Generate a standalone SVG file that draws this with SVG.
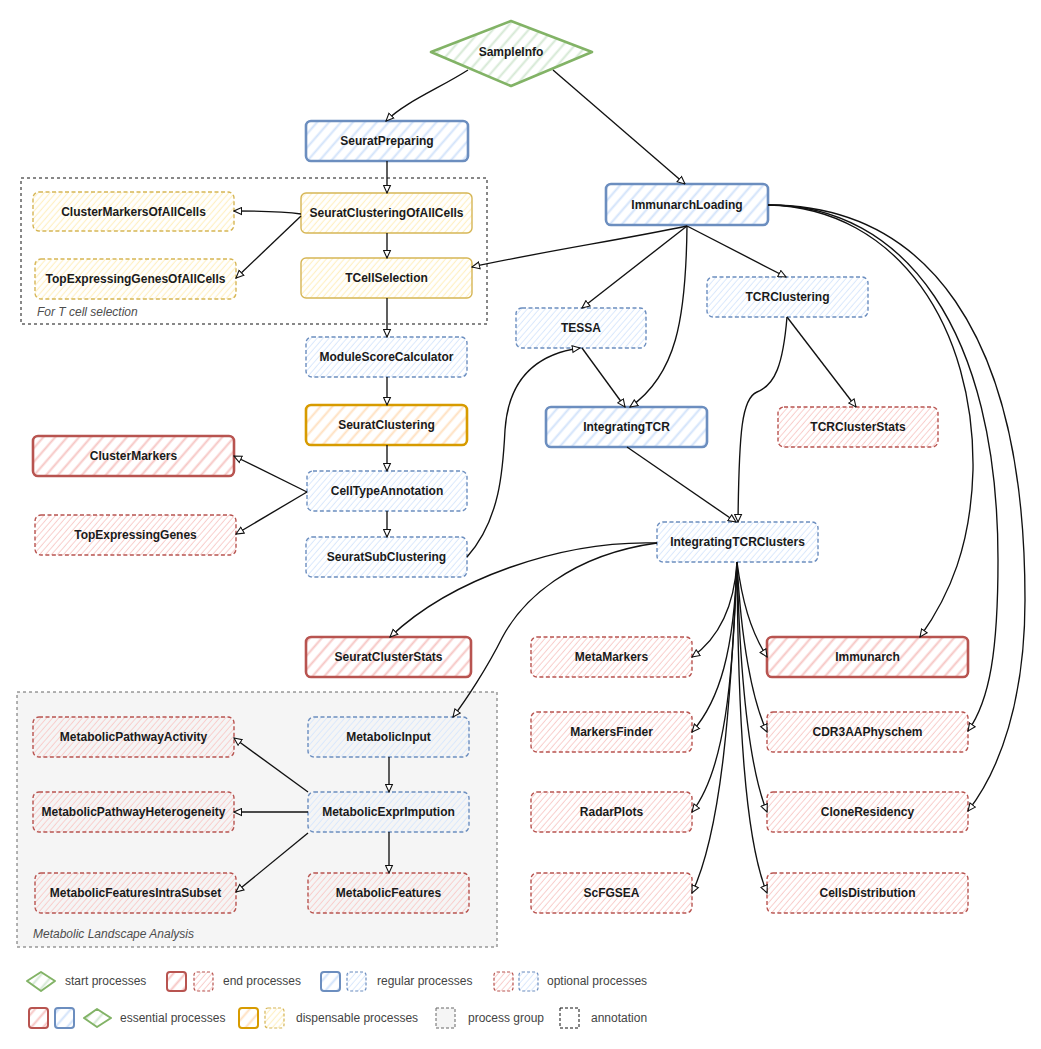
<svg xmlns="http://www.w3.org/2000/svg" width="1041" height="1049" viewBox="0 0 1041 1049">
<defs>
<style>
.lbl{font-family:"Liberation Sans",Arial,sans-serif;font-size:12px;font-weight:bold;fill:#1a1a1a;text-anchor:middle}
.leg{font-family:"Liberation Sans",Arial,sans-serif;font-size:12px;fill:#444}
.note{font-family:"Liberation Sans",Arial,sans-serif;font-size:12px;font-style:italic;fill:#4d4d4d}
.edge{fill:none;stroke:#111;stroke-width:1.35;marker-end:url(#arr)}
.ess{stroke-width:2.6}
.thin{stroke-width:1.4}
.opt{stroke-width:1.4;stroke-dasharray:4 2.5}
.blue{stroke:#6c8ebf}
.red{stroke:#b85450}
.yel{stroke:#d6b656}
.ora{stroke:#d79b00}
.grn{stroke:#82b366}
</style>
<!-- hachure fills: wide spacing for bold outlines, dense spacing for light outlines -->
<pattern id="hB" width="9" height="9" patternUnits="userSpaceOnUse" patternTransform="rotate(41)"><line x1="4.5" y1="0" x2="4.5" y2="9" stroke="#d2e3fa" stroke-width="2"/></pattern>
<pattern id="hBd" width="4.5" height="9" patternUnits="userSpaceOnUse" patternTransform="rotate(41)"><line x1="2.2" y1="0" x2="2.2" y2="9" stroke="#dae8fc" stroke-width="1"/></pattern>
<pattern id="hR" width="9" height="9" patternUnits="userSpaceOnUse" patternTransform="rotate(41)"><line x1="4.5" y1="0" x2="4.5" y2="9" stroke="#f6c6c4" stroke-width="2"/></pattern>
<pattern id="hRd" width="4.5" height="9" patternUnits="userSpaceOnUse" patternTransform="rotate(41)"><line x1="2.2" y1="0" x2="2.2" y2="9" stroke="#f8cecc" stroke-width="1"/></pattern>
<pattern id="hYd" width="4.5" height="9" patternUnits="userSpaceOnUse" patternTransform="rotate(41)"><line x1="2.2" y1="0" x2="2.2" y2="9" stroke="#fff0c4" stroke-width="1.2"/></pattern>
<pattern id="hO" width="9" height="9" patternUnits="userSpaceOnUse" patternTransform="rotate(41)"><line x1="4.5" y1="0" x2="4.5" y2="9" stroke="#ffe0c0" stroke-width="2"/></pattern>
<pattern id="hG" width="9" height="9" patternUnits="userSpaceOnUse" patternTransform="rotate(41)"><line x1="4.5" y1="0" x2="4.5" y2="9" stroke="#d5e8d4" stroke-width="2"/></pattern>
<marker id="arr" viewBox="0 0 10 10" refX="9.2" refY="5" markerWidth="9" markerHeight="9" markerUnits="userSpaceOnUse" orient="auto">
<path d="M0.8,1.2 L9.2,5 L0.8,8.8 Z" fill="#fff" stroke="#111" stroke-width="1.2"/>
</marker>
</defs>
<rect width="1041" height="1049" fill="#fff"/>

<!-- containers -->
<g id="annotation-tcell">
<rect x="21" y="178" width="466" height="146" fill="none" stroke="#111" stroke-width="1" stroke-dasharray="3 3"/>
<text class="note" x="37" y="316">For T cell selection</text>
</g>
<g id="group-metabolic">
<rect x="17" y="692" width="480" height="255" fill="#f5f5f5" stroke="#666" stroke-width="1" stroke-dasharray="3 3"/>
<text class="note" x="33" y="938">Metabolic Landscape Analysis</text>
</g>

<!-- processes -->
<g id="SampleInfo">
<polygon points="431,52 511,21 592,52 511,86" fill="url(#hG)" class="grn ess" stroke-linejoin="round"/>
<text class="lbl" x="511" y="56">SampleInfo</text>
</g>
<g id="SeuratPreparing"><rect x="306" y="121" width="162" height="40" rx="5" fill="url(#hB)" class="blue ess"/><text class="lbl" x="387" y="145">SeuratPreparing</text></g>
<g id="ClusterMarkersOfAllCells"><rect x="33" y="192" width="201" height="39" rx="6" fill="url(#hYd)" class="yel opt"/><text class="lbl" x="133.5" y="215.5">ClusterMarkersOfAllCells</text></g>
<g id="SeuratClusteringOfAllCells"><rect x="301" y="193" width="171" height="40" rx="5" fill="url(#hYd)" class="yel thin"/><text class="lbl" x="386.5" y="217">SeuratClusteringOfAllCells</text></g>
<g id="TopExpressingGenesOfAllCells"><rect x="35" y="259" width="201" height="40" rx="6" fill="url(#hYd)" class="yel opt"/><text class="lbl" x="135.5" y="283">TopExpressingGenesOfAllCells</text></g>
<g id="TCellSelection"><rect x="301" y="258" width="171" height="40" rx="5" fill="url(#hYd)" class="yel thin"/><text class="lbl" x="386.5" y="282">TCellSelection</text></g>
<g id="ModuleScoreCalculator"><rect x="306" y="337" width="161" height="40" rx="6" fill="url(#hBd)" class="blue opt"/><text class="lbl" x="386.5" y="361">ModuleScoreCalculator</text></g>
<g id="SeuratClustering"><rect x="306" y="405" width="161" height="40" rx="5" fill="url(#hO)" class="ora ess"/><text class="lbl" x="386.5" y="429">SeuratClustering</text></g>
<g id="ClusterMarkers"><rect x="33" y="436" width="201" height="40" rx="5" fill="url(#hR)" class="red ess"/><text class="lbl" x="133.5" y="460">ClusterMarkers</text></g>
<g id="CellTypeAnnotation"><rect x="307" y="471" width="160" height="40" rx="6" fill="url(#hBd)" class="blue opt"/><text class="lbl" x="387" y="495">CellTypeAnnotation</text></g>
<g id="TopExpressingGenes"><rect x="35" y="515" width="201" height="40" rx="6" fill="url(#hRd)" class="red opt"/><text class="lbl" x="135.5" y="539">TopExpressingGenes</text></g>
<g id="SeuratSubClustering"><rect x="306" y="537" width="161" height="40" rx="6" fill="url(#hBd)" class="blue opt"/><text class="lbl" x="386.5" y="561">SeuratSubClustering</text></g>
<g id="ImmunarchLoading"><rect x="606" y="184" width="162" height="41" rx="5" fill="url(#hB)" class="blue ess"/><text class="lbl" x="687" y="209">ImmunarchLoading</text></g>
<g id="TESSA"><rect x="516" y="308" width="130" height="40" rx="6" fill="url(#hBd)" class="blue opt"/><text class="lbl" x="581" y="332">TESSA</text></g>
<g id="TCRClustering"><rect x="707" y="277" width="161" height="40" rx="6" fill="url(#hBd)" class="blue opt"/><text class="lbl" x="787.5" y="301">TCRClustering</text></g>
<g id="IntegratingTCR"><rect x="546" y="407" width="161" height="40" rx="5" fill="url(#hB)" class="blue ess"/><text class="lbl" x="626.5" y="431">IntegratingTCR</text></g>
<g id="TCRClusterStats"><rect x="778" y="407" width="160" height="40" rx="6" fill="url(#hRd)" class="red opt"/><text class="lbl" x="858" y="431">TCRClusterStats</text></g>
<g id="IntegratingTCRClusters"><rect x="657" y="522" width="161" height="40" rx="6" fill="url(#hBd)" class="blue opt"/><text class="lbl" x="737.5" y="546">IntegratingTCRClusters</text></g>
<g id="SeuratClusterStats"><rect x="306" y="637" width="165" height="40" rx="5" fill="url(#hR)" class="red ess"/><text class="lbl" x="388.5" y="661">SeuratClusterStats</text></g>
<g id="MetaMarkers"><rect x="531" y="637" width="161" height="40" rx="6" fill="url(#hRd)" class="red opt"/><text class="lbl" x="611.5" y="661">MetaMarkers</text></g>
<g id="Immunarch"><rect x="767" y="637" width="201" height="40" rx="5" fill="url(#hR)" class="red ess"/><text class="lbl" x="867.5" y="661">Immunarch</text></g>
<g id="MarkersFinder"><rect x="531" y="712" width="161" height="40" rx="6" fill="url(#hRd)" class="red opt"/><text class="lbl" x="611.5" y="736">MarkersFinder</text></g>
<g id="CDR3AAPhyschem"><rect x="767" y="712" width="201" height="40" rx="6" fill="url(#hRd)" class="red opt"/><text class="lbl" x="867.5" y="736">CDR3AAPhyschem</text></g>
<g id="RadarPlots"><rect x="531" y="792" width="161" height="40" rx="6" fill="url(#hRd)" class="red opt"/><text class="lbl" x="611.5" y="816">RadarPlots</text></g>
<g id="CloneResidency"><rect x="767" y="792" width="201" height="40" rx="6" fill="url(#hRd)" class="red opt"/><text class="lbl" x="867.5" y="816">CloneResidency</text></g>
<g id="ScFGSEA"><rect x="531" y="873" width="161" height="40" rx="6" fill="url(#hRd)" class="red opt"/><text class="lbl" x="611.5" y="897">ScFGSEA</text></g>
<g id="CellsDistribution"><rect x="767" y="873" width="201" height="40" rx="6" fill="url(#hRd)" class="red opt"/><text class="lbl" x="867.5" y="897">CellsDistribution</text></g>
<g id="MetabolicPathwayActivity"><rect x="33" y="717" width="201" height="40" rx="6" fill="url(#hRd)" class="red opt"/><text class="lbl" x="133.5" y="741">MetabolicPathwayActivity</text></g>
<g id="MetabolicInput"><rect x="308" y="717" width="161" height="40" rx="6" fill="url(#hBd)" class="blue opt"/><text class="lbl" x="388.5" y="741">MetabolicInput</text></g>
<g id="MetabolicPathwayHeterogeneity"><rect x="33" y="792" width="201" height="40" rx="6" fill="url(#hRd)" class="red opt"/><text class="lbl" x="133.5" y="816">MetabolicPathwayHeterogeneity</text></g>
<g id="MetabolicExprImpution"><rect x="308" y="792" width="161" height="40" rx="6" fill="url(#hBd)" class="blue opt"/><text class="lbl" x="388.5" y="816">MetabolicExprImpution</text></g>
<g id="MetabolicFeaturesIntraSubset"><rect x="35" y="873" width="201" height="40" rx="6" fill="url(#hRd)" class="red opt"/><text class="lbl" x="135.5" y="897">MetabolicFeaturesIntraSubset</text></g>
<g id="MetabolicFeatures"><rect x="308" y="873" width="161" height="40" rx="6" fill="url(#hRd)" class="red opt"/><text class="lbl" x="388.5" y="897">MetabolicFeatures</text></g>

<!-- connectors -->
<g id="connectors">
<path class="edge" d="M468,70 C440,88 405,102 386,121"/>
<path class="edge" d="M553,70 L685,184"/>
<path class="edge" d="M387,161 L387,193"/>
<path class="edge" d="M301,214 C280,211 260,211 234,211"/>
<path class="edge" d="M301,216 L236,278"/>
<path class="edge" d="M387,233 L387,258"/>
<path class="edge" d="M387,298 L387,337"/>
<path class="edge" d="M687,226 C620,240 540,252 472,267"/>
<path class="edge" d="M687,226 L582,308"/>
<path class="edge" d="M687,226 C686,320 676,375 630,407"/>
<path class="edge" d="M687,226 L786,277"/>
<path class="edge" d="M387,377 L387,405"/>
<path class="edge" d="M387,445 L387,471"/>
<path class="edge" d="M307,492 L234,456"/>
<path class="edge" d="M307,492 L236,534"/>
<path class="edge" d="M387,511 L387,537"/>
<path class="edge" d="M467,557 C500,520 503,470 505,430 C508,385 530,355 580,348"/>
<path class="edge" d="M582,348 L625,407"/>
<path class="edge" d="M627,447 L736,522"/>
<path class="edge" d="M787,317 C783,365 775,385 757,392 C742,398 739,430 738,522"/>
<path class="edge" d="M787,317 L856,407"/>
<path class="edge" d="M768,205 C900,208 975,330 973,470 C971,545 950,595 920,637"/>
<path class="edge" d="M768,205 C905,205 998,330 998,560 C998,650 990,700 968,731"/>
<path class="edge" d="M768,205 C925,205 1025,330 1025,600 C1025,700 1000,770 968,811"/>
<path class="edge" d="M657,543 C560,540 450,580 390,637"/>
<path class="edge" d="M657,543 C570,555 522,600 502,638 C487,668 466,700 453,717"/>
<path class="edge" d="M737,562 C734,610 716,640 692,657"/>
<path class="edge" d="M737,562 C734,650 720,700 692,732"/>
<path class="edge" d="M737,562 C733,680 725,770 692,812"/>
<path class="edge" d="M737,562 C731,700 722,830 692,893"/>
<path class="edge" d="M737,562 C742,600 750,630 767,657"/>
<path class="edge" d="M737,562 C741,640 752,700 767,732"/>
<path class="edge" d="M737,562 C740,680 750,770 767,812"/>
<path class="edge" d="M737,562 C738,720 745,840 767,893"/>
<path class="edge" d="M389,757 L389,792"/>
<path class="edge" d="M308,792 L234,738"/>
<path class="edge" d="M308,812 L234,812"/>
<path class="edge" d="M308,833 L236,892"/>
<path class="edge" d="M389,832 L389,873"/>
</g>

<!-- legend -->
<g id="legend">
<polygon points="27,981 41,972 55,981 41,991" fill="url(#hG)" class="grn" stroke-width="2" stroke-linejoin="round"/>
<text class="leg" x="65" y="985">start processes</text>
<rect x="167" y="972" width="19" height="19" rx="3" fill="url(#hR)" class="red" stroke-width="2"/>
<rect x="194" y="972" width="19" height="19" rx="3" fill="url(#hRd)" class="red" stroke-width="1.2" stroke-dasharray="3 2"/>
<text class="leg" x="223" y="985">end processes</text>
<rect x="321" y="972" width="19" height="19" rx="3" fill="url(#hB)" class="blue" stroke-width="2"/>
<rect x="347" y="972" width="19" height="19" rx="3" fill="url(#hBd)" class="blue" stroke-width="1.2" stroke-dasharray="3 2"/>
<text class="leg" x="377" y="985">regular processes</text>
<rect x="494" y="972" width="19" height="19" rx="3" fill="url(#hRd)" class="red" stroke-width="1.2" stroke-dasharray="3 2"/>
<rect x="519" y="972" width="19" height="19" rx="3" fill="url(#hBd)" class="blue" stroke-width="1.2" stroke-dasharray="3 2"/>
<text class="leg" x="547" y="985">optional processes</text>

<rect x="29" y="1008" width="19" height="20" rx="3" fill="url(#hR)" class="red" stroke-width="2"/>
<rect x="55" y="1008" width="19" height="20" rx="3" fill="url(#hB)" class="blue" stroke-width="2"/>
<polygon points="84,1018 97,1009 111,1018 97,1027" fill="url(#hG)" class="grn" stroke-width="2" stroke-linejoin="round"/>
<text class="leg" x="120" y="1022">essential processes</text>
<rect x="239" y="1008" width="19" height="20" rx="3" fill="url(#hO)" class="ora" stroke-width="2"/>
<rect x="265" y="1008" width="19" height="20" rx="3" fill="url(#hYd)" class="yel" stroke-width="1.2" stroke-dasharray="3 2"/>
<text class="leg" x="296" y="1022">dispensable processes</text>
<rect x="436" y="1008" width="19" height="20" fill="#f5f5f5" stroke="#666" stroke-width="1" stroke-dasharray="3 2"/>
<text class="leg" x="468" y="1022">process group</text>
<rect x="560" y="1008" width="19" height="20" fill="none" stroke="#111" stroke-width="1" stroke-dasharray="3 2"/>
<text class="leg" x="591" y="1022">annotation</text>
</g>
</svg>
